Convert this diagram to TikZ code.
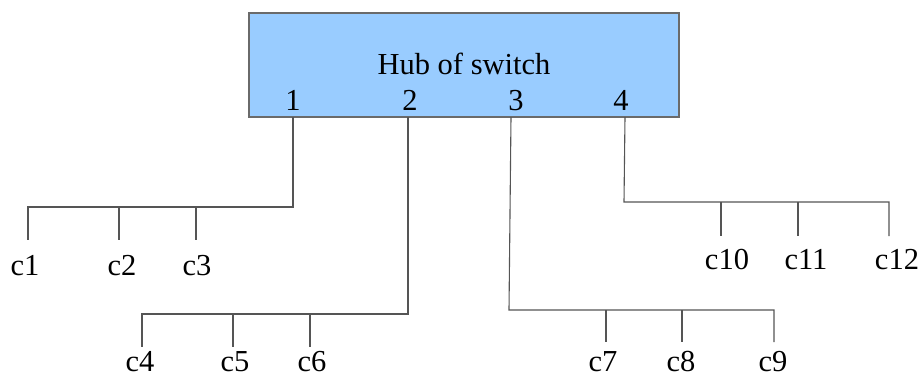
\documentclass[tikz,border=0pt]{standalone}
\usepackage{fontspec}
\setmainfont{Liberation Serif}
\definecolor{hubfill}{HTML}{99CCFF}
\definecolor{hubline}{HTML}{6A6A6A}
\definecolor{wirecol}{HTML}{555555}
\begin{document}
\begin{tikzpicture}[x=1pt,y=-1pt,
  wire/.style={draw=wirecol,line width=1.1pt},
  lbl/.style={font=\fontsize{30.5}{32}\selectfont,inner sep=0pt,anchor=base},
  hubbox/.style={draw=hubline,fill=hubfill,line width=1.5pt,minimum width=430pt,minimum height=104pt,inner sep=0pt}]
\useasboundingbox (0,0) rectangle (924,378);
\node[hubbox] (hub) at (464,65) {};
\node[lbl] (title) at (464,74) {Hub of switch};
\node[lbl] (p1) at (293,110) {1};
\node[lbl] (p2) at (410,110) {2};
\node[lbl] (p3) at (516,110) {3};
\node[lbl] (p4) at (621,110) {4};
% client labels
\node[lbl] (c1) at (25,275) {c1};
\node[lbl] (c2) at (122,275) {c2};
\node[lbl] (c3) at (197,275) {c3};
\node[lbl] (c4) at (140,371) {c4};
\node[lbl] (c5) at (235,371) {c5};
\node[lbl] (c6) at (312,371) {c6};
\node[lbl] (c7) at (603,371) {c7};
\node[lbl] (c8) at (681,371) {c8};
\node[lbl] (c9) at (773,371) {c9};
\node[lbl] (c10) at (727,269) {c10};
\node[lbl] (c11) at (806,269) {c11};
\node[lbl] (c12) at (897,269) {c12};
% port 1
\coordinate (b1) at (293,117);
\coordinate (k1) at (293,207);
\coordinate (j1a) at (28,207);
\coordinate (j1b) at (119,207);
\coordinate (j1c) at (196,207);
\coordinate (d1a) at (28,240);
\coordinate (d1b) at (119,240);
\coordinate (d1c) at (196,240);
\draw[wire] (b1) -- (k1) -- (j1a) -- (d1a);
\draw[wire] (j1b) -- (d1b);
\draw[wire] (j1c) -- (d1c);
% port 2
\coordinate (b2) at (408,117);
\coordinate (k2) at (408,314);
\coordinate (j2a) at (142,314);
\coordinate (j2b) at (233,314);
\coordinate (j2c) at (310,314);
\coordinate (d2a) at (142,347);
\coordinate (d2b) at (233,347);
\coordinate (d2c) at (310,347);
\draw[wire] (b2) -- (k2) -- (j2a) -- (d2a);
\draw[wire] (j2b) -- (d2b);
\draw[wire] (j2c) -- (d2c);
% port 3
\coordinate (b3) at (511,117);
\coordinate (k3) at (509,310);
\coordinate (j3a) at (606,310);
\coordinate (j3b) at (682,310);
\coordinate (j3c) at (774,310);
\coordinate (d3a) at (606,342);
\coordinate (d3b) at (682,342);
\coordinate (d3c) at (774,342);
\draw[wire] (b3) -- (k3) -- (j3c) -- (d3c);
\draw[wire] (j3a) -- (d3a);
\draw[wire] (j3b) -- (d3b);
% port 4
\coordinate (b4) at (625,117);
\coordinate (k4) at (624,202);
\coordinate (j4a) at (721,202);
\coordinate (j4b) at (798,202);
\coordinate (j4c) at (889,202);
\coordinate (d4a) at (721,236);
\coordinate (d4b) at (798,236);
\coordinate (d4c) at (889,236);
\draw[wire] (b4) -- (k4) -- (j4c) -- (d4c);
\draw[wire] (j4a) -- (d4a);
\draw[wire] (j4b) -- (d4b);
\end{tikzpicture}
\end{document}
